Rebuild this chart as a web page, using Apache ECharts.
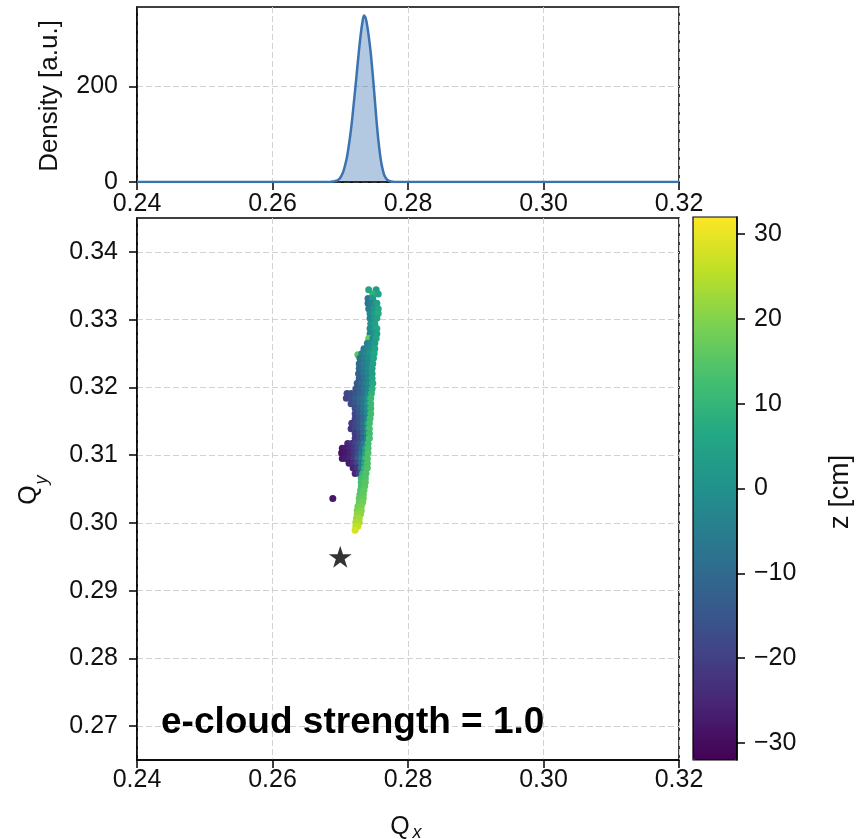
<!DOCTYPE html>
<html>
<head>
<meta charset="utf-8">
<script src="https://cdn.jsdelivr.net/npm/echarts@6/dist/echarts.min.js"></script>
<style>
  html, body { margin: 0; padding: 0; background: #ffffff; }
  #chart { width: 863px; height: 839px; }
</style>
</head>
<body>
<div id="chart"></div>
<script>
// ---- tick labels ----
const qxTicks = [0.24, 0.26, 0.28, 0.30, 0.32];
const qyTicks = [0.27, 0.28, 0.29, 0.30, 0.31, 0.32, 0.33, 0.34];
const densityTicks = [0, 200];
const zTicks = [-30, -20, -10, 0, 10, 20, 30];

// ---- horizontal tune density (KDE of Qx) ----
const densityQx  = [0.2400, 0.2680, 0.2685, 0.2690, 0.26925, 0.2695, 0.26975, 0.2700, 0.27025, 0.2705,
                    0.27075, 0.2710, 0.27125, 0.2715, 0.27175, 0.2720, 0.27225, 0.2725, 0.27275, 0.2730,
                    0.27325, 0.2735, 0.27375, 0.2740, 0.27425, 0.2745, 0.27475, 0.2750, 0.27525, 0.2755,
                    0.27575, 0.2760, 0.27625, 0.2765, 0.27675, 0.2770, 0.2775, 0.2780, 0.3200];
const densityVal = [0, 0, 0, 1, 2, 3, 5, 9, 15, 24,
                    37, 53, 75, 100, 130, 165, 200, 237, 273, 306,
                    332, 348, 343, 325, 300, 270, 232, 190, 146, 105,
                    72, 45, 27, 14, 8, 4, 1, 0, 0];

// ---- tune footprint: [Qx, Qy, z (cm)] ----
const headParticles = [
  [0.2742,0.3344,6],[0.2753,0.3344,3],
  [0.2748,0.3338,9],[0.2756,0.3338,5],
  [0.2741,0.3331,-6],[0.2748,0.3331,2],
  [0.2741,0.3324,-8],[0.2747,0.3324,-3],[0.2754,0.3324,4],
  [0.2742,0.3316,-5],[0.2750,0.3316,1],[0.2756,0.3316,6],
  [0.2744,0.3309,-2],[0.2750,0.3309,3],[0.2756,0.3309,7],
  [0.2744,0.3302,-3],[0.2750,0.3302,1],[0.2754,0.3302,5],
  [0.2745,0.3294,0],[0.2751,0.3294,4],
  [0.2744,0.3287,-1],[0.2750,0.3287,2],[0.2754,0.3287,6],
  [0.2744,0.3279,-3],[0.2750,0.3279,0],[0.2754,0.3279,4],
  [0.2742,0.3272,17],[0.2748,0.3272,-1],[0.2753,0.3272,5],
  [0.2740,0.3265,-4],[0.2745,0.3265,-1],[0.2751,0.3265,3],
  [0.2735,0.3257,-6],[0.2741,0.3257,-2],[0.2747,0.3257,0],[0.2751,0.3257,5]
];

const coreParticles = [
  [0.2726,0.3248,15],
  [0.2732,0.3250,-5],[0.2738,0.3250,-2],[0.2744,0.3250,1],[0.2750,0.3250,6],
  [0.2729,0.3243,-8],[0.2736,0.3243,-4],[0.2742,0.3243,-1],[0.2749,0.3243,5],
  [0.2728,0.3235,-9],[0.2735,0.3235,-5],[0.2742,0.3235,-2],[0.2748,0.3235,4],
  [0.2728,0.3228,-10],[0.2735,0.3228,-6],[0.2741,0.3228,-2],[0.2747,0.3228,4],
  [0.2727,0.3220,-12],[0.2734,0.3220,-7],[0.2740,0.3220,-3],[0.2747,0.3220,3],
  [0.2728,0.3213,-13],[0.2735,0.3213,-8],[0.2741,0.3213,-3],[0.2747,0.3213,5],
  [0.2725,0.3206,-14],[0.2731,0.3206,-10],[0.2737,0.3206,-6],[0.2743,0.3206,-1],[0.2748,0.3206,7],
  [0.2723,0.3198,-15],[0.2729,0.3198,-12],[0.2735,0.3198,-8],[0.2741,0.3198,-3],[0.2747,0.3198,8],
  [0.2710,0.3191,-18],[0.2716,0.3191,-17],[0.2723,0.3191,-15],[0.2729,0.3191,-12],[0.2735,0.3191,-8],[0.2741,0.3191,-2],[0.2746,0.3191,9],
  [0.2709,0.3184,-19],[0.2716,0.3184,-17],[0.2722,0.3184,-14],[0.2729,0.3184,-10],[0.2735,0.3184,-6],[0.2741,0.3184,1],[0.2745,0.3184,11],
  [0.2716,0.3176,-18],[0.2722,0.3176,-15],[0.2729,0.3176,-11],[0.2735,0.3176,-6],[0.2741,0.3176,2],[0.2745,0.3176,11],
  [0.2722,0.3169,-17],[0.2728,0.3169,-13],[0.2734,0.3169,-8],[0.2740,0.3169,-1],[0.2745,0.3169,11],
  [0.2722,0.3161,-18],[0.2728,0.3161,-14],[0.2734,0.3161,-9],[0.2740,0.3161,-2],[0.2745,0.3161,12],
  [0.2722,0.3154,-19],[0.2728,0.3154,-15],[0.2734,0.3154,-10],[0.2740,0.3154,-3],[0.2744,0.3154,12],
  [0.2717,0.3147,-21],[0.2723,0.3147,-18],[0.2729,0.3147,-14],[0.2734,0.3147,-9],[0.2740,0.3147,0],[0.2743,0.3147,12],
  [0.2716,0.3139,-22],[0.2722,0.3139,-19],[0.2728,0.3139,-15],[0.2734,0.3139,-9],[0.2740,0.3139,1],[0.2743,0.3139,13],
  [0.2722,0.3132,-21],[0.2728,0.3132,-17],[0.2734,0.3132,-11],[0.2739,0.3132,-2],[0.2743,0.3132,12],
  [0.2722,0.3125,-22],[0.2728,0.3125,-18],[0.2734,0.3125,-12],[0.2740,0.3125,-2],[0.2743,0.3125,13],
  [0.2711,0.3117,-25],[0.2717,0.3117,-23],[0.2723,0.3117,-19],[0.2729,0.3117,-14],[0.2735,0.3117,-6],[0.2741,0.3117,12],
  [0.2703,0.3110,-28],[0.2708,0.3110,-27],[0.2714,0.3110,-25],[0.2720,0.3110,-22],[0.2726,0.3110,-17],[0.2732,0.3110,-9],[0.2737,0.3110,3],[0.2741,0.3110,13],
  [0.2702,0.3103,-29],[0.2708,0.3103,-28],[0.2714,0.3103,-26],[0.2720,0.3103,-22],[0.2726,0.3103,-17],[0.2731,0.3103,-9],[0.2737,0.3103,4],[0.2741,0.3103,14],
  [0.2703,0.3095,-28],[0.2708,0.3095,-27],[0.2714,0.3095,-25],[0.2720,0.3095,-21],[0.2726,0.3095,-13],[0.2732,0.3095,-3],[0.2737,0.3095,10],[0.2740,0.3095,14],
  [0.2713,0.3088,-27],[0.2719,0.3088,-24],[0.2725,0.3088,-18],[0.2731,0.3088,-8],[0.2736,0.3088,6],[0.2740,0.3088,14],
  [0.2719,0.3081,-26],[0.2725,0.3081,-22],[0.2731,0.3081,-6],[0.2736,0.3081,10],[0.2740,0.3081,14],
  [0.2722,0.3073,-25],[0.2728,0.3073,-18],[0.2733,0.3073,10],[0.2738,0.3073,14]
];

const tailParticles = [
  [0.2731,0.3066,12],[0.2737,0.3066,14],
  [0.2731,0.3060,13],[0.2737,0.3060,15],
  [0.2731,0.3054,13],[0.2736,0.3054,15],
  [0.2730,0.3048,14],[0.2735,0.3048,16],
  [0.2729,0.3042,15],[0.2734,0.3042,16],
  [0.2728,0.3036,16],[0.2734,0.3036,17],
  [0.2728,0.3030,17],[0.2733,0.3030,18],
  [0.2726,0.3024,18],[0.2731,0.3024,19],
  [0.2725,0.3018,19],[0.2731,0.3018,20],
  [0.2725,0.3013,21],[0.2730,0.3013,21],
  [0.2724,0.3007,22],[0.2728,0.3007,23],
  [0.2723,0.3001,24],[0.2728,0.3001,24],
  [0.2723,0.2995,25],[0.2726,0.2995,26],
  [0.2722,0.2989,28]
];

const strayParticles = [[0.2689,0.3036,-28]];

// bare-lattice working point
const workingPoint = [[0.2700, 0.2950]];

const zRange = [-32, 32];
const viridis = ['#440154','#482475','#414487','#355f8d','#2a788e','#21918c',
                 '#22a884','#44bf70','#7ad151','#bddf26','#fde725'];

const FONT = 'Liberation Sans, Arial, sans-serif';
const INK = '#111111';
const starPath = 'path://M50,0 L61.23,34.55 L97.55,34.55 L68.17,55.9 L79.39,90.45 L50,69.1 L20.61,90.45 L31.83,55.9 L2.45,34.55 L38.77,34.55 Z';

const fmt2 = v => v.toFixed(2);
const fmtZ = v => (v < 0 ? '\u2212' + (-v) : String(v));

function axisCommon(ticks, formatter, margin, showSplit) {
  return {
    axisLine: { show: true, onZero: false, lineStyle: { color: '#000', width: 1.5 } },
    axisTick: { show: true, inside: false, length: 8, customValues: ticks, lineStyle: { color: '#000', width: 1.5 } },
    axisLabel: { show: true, customValues: ticks, formatter: formatter, margin: margin,
                 fontSize: 25, fontFamily: FONT, color: INK },
    splitLine: { show: showSplit, lineStyle: { type: [6, 3], color: '#d2d2d2', width: 1 } }
  };
}

const chart = echarts.init(document.getElementById('chart'), null, { renderer: 'canvas' });

const particles = headParticles.concat(coreParticles, tailParticles, strayParticles);

chart.setOption({
  animation: false,
  backgroundColor: '#ffffff',
  grid: [
    { left: 137, top: 7, width: 542, height: 175, show: true, borderColor: '#000', borderWidth: 1.5, backgroundColor: 'transparent' },
    { left: 137, top: 218, width: 542, height: 542, show: true, borderColor: '#000', borderWidth: 1.5, backgroundColor: 'transparent' },
    { left: 693, top: 217, width: 44, height: 543, show: true, borderColor: '#000', borderWidth: 1.2, backgroundColor: 'transparent', z: 10 }
  ],
  xAxis: [
    Object.assign({ type: 'value', gridIndex: 0, min: 0.24, max: 0.32 }, axisCommon(qxTicks, fmt2, 10, true)),
    Object.assign({ type: 'value', gridIndex: 1, min: 0.24, max: 0.32 }, axisCommon(qxTicks, fmt2, 8, true)),
    { type: 'value', gridIndex: 2, min: 0, max: 1, show: false }
  ],
  yAxis: [
    Object.assign({ type: 'value', gridIndex: 0, min: 0, max: 366 }, axisCommon(densityTicks, v => String(v), 19, true)),
    Object.assign({ type: 'value', gridIndex: 1, min: 0.265, max: 0.345 }, axisCommon(qyTicks, fmt2, 19, true)),
    Object.assign({ type: 'value', gridIndex: 2, min: zRange[0], max: zRange[1], position: 'right', z: 12 },
                  axisCommon(zTicks, fmtZ, 17, false))
  ],
  visualMap: {
    type: 'continuous',
    seriesIndex: 1,
    dimension: 2,
    min: zRange[0],
    max: zRange[1],
    inRange: { color: viridis },
    orient: 'vertical',
    left: 693,
    top: 217,
    itemWidth: 44,
    itemHeight: 543,
    calculable: false,
    hoverLink: false,
    padding: 0,
    textStyle: { fontSize: 0 }
  },
  series: [
    {
      type: 'line',
      xAxisIndex: 0, yAxisIndex: 0,
      data: densityQx.map((q, i) => [q, densityVal[i]]),
      smooth: 0.3,
      showSymbol: false,
      silent: true,
      lineStyle: { color: '#3b73b0', width: 2.5 },
      areaStyle: { color: 'rgba(40,100,170,0.5)' }
    },
    {
      type: 'scatter',
      xAxisIndex: 1, yAxisIndex: 1,
      data: particles,
      symbolSize: 7,
      silent: true,
      itemStyle: { opacity: 1 }
    },
    {
      type: 'scatter',
      xAxisIndex: 1, yAxisIndex: 1,
      data: workingPoint,
      symbol: starPath,
      symbolSize: [23, 22],
      silent: true,
      itemStyle: { color: '#000' },
      z: 5
    }
  ],
  graphic: [
    { type: 'text', x: 50, y: 96, rotation: Math.PI / 2, silent: true,
      style: { text: 'Density [a.u.]', font: '26px ' + FONT, fill: INK, align: 'center', verticalAlign: 'middle' } },
    { type: 'text', x: 29, y: 495, rotation: Math.PI / 2, silent: true,
      style: { text: 'Q', font: '25px ' + FONT, fill: INK, align: 'center', verticalAlign: 'middle' } },
    { type: 'text', x: 42, y: 480, rotation: Math.PI / 2, silent: true,
      style: { text: 'y', font: 'italic 18px ' + FONT, fill: INK, align: 'center', verticalAlign: 'middle' } },
    { type: 'text', x: 400, y: 827, silent: true,
      style: { text: 'Q', font: '25px ' + FONT, fill: INK, align: 'center', verticalAlign: 'middle' } },
    { type: 'text', x: 417, y: 833, silent: true,
      style: { text: 'x', font: 'italic 18px ' + FONT, fill: INK, align: 'center', verticalAlign: 'middle' } },
    { type: 'text', x: 840, y: 492, rotation: Math.PI / 2, silent: true,
      style: { text: 'z [cm]', font: '28px ' + FONT, fill: INK, align: 'center', verticalAlign: 'middle' } },
    { type: 'text', x: 161, y: 723, silent: true, z: 10,
      style: { text: 'e-cloud strength = 1.0', font: 'bold 37px ' + FONT, fill: '#000', align: 'left', verticalAlign: 'middle' } }
  ]
});
</script>
</body>
</html>
